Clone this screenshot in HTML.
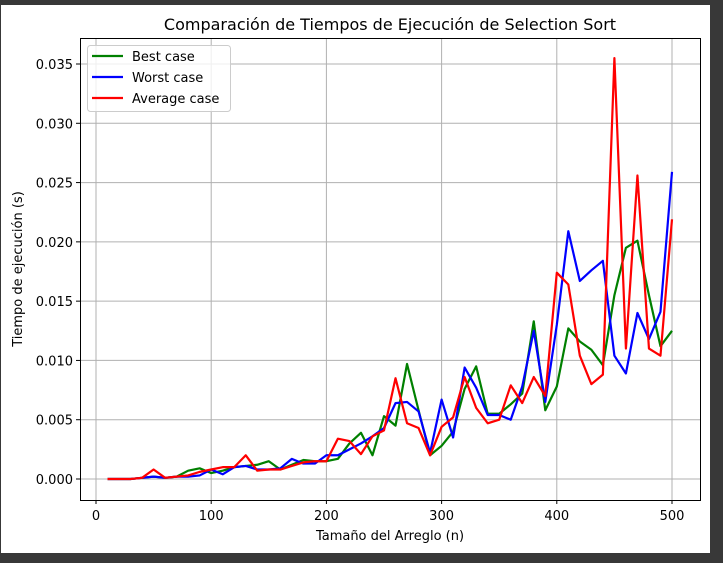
<!DOCTYPE html>
<html><head><meta charset="utf-8"><style>
html,body{margin:0;padding:0;background:#383838;}
svg{display:block;font-family:"DejaVu Sans","Liberation Sans",sans-serif;}
</style></head><body>
<svg id="chart" width="723" height="563">
<rect x="1" y="5" width="709" height="548" fill="#fff"/>
<text x="390" y="30" font-size="16" text-anchor="middle">Comparación de Tiempos de Ejecución de Selection Sort</text>
<g id="grid"></g>
<g id="series"></g>
<rect x="80.5" y="38.5" width="620" height="462" fill="none" stroke="#000" stroke-width="1"/>
<g id="ticks" font-size="13"></g>
<text x="390" y="540" font-size="13" text-anchor="middle">Tamaño del Arreglo (n)</text>
<text transform="translate(22,269) rotate(-90)" font-size="13" text-anchor="middle">Tiempo de ejecución (s)</text>
<g>
<rect x="87.5" y="45.5" width="143" height="66" rx="3" fill="#fff" fill-opacity="0.8" stroke="#ccc"/>
<g><line x1="92" y1="56" x2="123" y2="56" stroke="green" stroke-width="2.2"/><text x="132" y="61" font-size="13">Best case</text></g>
<g><line x1="92" y1="77" x2="123" y2="77" stroke="blue" stroke-width="2.2"/><text x="132" y="82" font-size="13">Worst case</text></g>
<g><line x1="92" y1="98" x2="123" y2="98" stroke="red" stroke-width="2.2"/><text x="132" y="103" font-size="13">Average case</text></g>
</g>
</svg>
<script>
const sizes=[10,20,30,40,50,60,70,80,90,100,110,120,130,140,150,160,170,180,190,200,210,220,230,240,250,260,270,280,290,300,310,320,330,340,350,360,370,380,390,400,410,420,430,440,450,460,470,480,490,500];
const bestCase=[0,0,0,0.0001,0.0002,0.0001,0.0002,0.0007,0.0009,0.0005,0.0007,0.001,0.0011,0.0012,0.0015,0.0008,0.0012,0.0016,0.0015,0.0015,0.0017,0.003,0.0039,0.002,0.0053,0.0045,0.0097,0.0058,0.002,0.0028,0.004,0.0076,0.0095,0.0055,0.0055,0.0063,0.0072,0.0133,0.0058,0.0078,0.0127,0.0116,0.0109,0.0096,0.0155,0.0195,0.0201,0.0155,0.0112,0.0125];
const worstCase=[0,0,0,0.0001,0.0002,0.0001,0.0002,0.0002,0.0003,0.0008,0.0004,0.001,0.0011,0.0008,0.0008,0.0009,0.0017,0.0013,0.0013,0.002,0.002,0.0025,0.003,0.0036,0.0043,0.0064,0.0065,0.0057,0.0022,0.0067,0.0035,0.0094,0.0077,0.0054,0.0054,0.005,0.0078,0.0125,0.0065,0.013,0.0209,0.0167,0.0176,0.0184,0.0104,0.0089,0.014,0.0118,0.0141,0.0259];
const averageCase=[0,0,0,0.0001,0.0008,0.0001,0.0002,0.0003,0.0006,0.0008,0.001,0.001,0.002,0.0007,0.0008,0.0008,0.0011,0.0014,0.0015,0.0015,0.0034,0.0032,0.0021,0.0036,0.0041,0.0085,0.0047,0.0043,0.002,0.0044,0.0052,0.0086,0.006,0.0047,0.005,0.0079,0.0064,0.0086,0.007,0.0174,0.0164,0.0104,0.008,0.0088,0.0355,0.011,0.0256,0.011,0.0104,0.0219];
const xTicks=[0,100,200,300,400,500];
const yTicks=[0,0.005,0.01,0.015,0.02,0.025,0.03,0.035];
const yTickLabels=["0.000","0.005","0.010","0.015","0.020","0.025","0.030","0.035"];
const NS="http://www.w3.org/2000/svg";
function xs(v){return 96+v*(672-96)/500;}
function ys(v){return 479-v*(479-64)/0.035;}
function mk(tag,attrs,parent){const e=document.createElementNS(NS,tag);for(const k in attrs)e.setAttribute(k,attrs[k]);parent.appendChild(e);return e;}
const grid=document.getElementById('grid'),ticks=document.getElementById('ticks'),series=document.getElementById('series');
xTicks.forEach(t=>{const x=xs(t);
 const g=mk('line',{x1:x,x2:x,y1:38,y2:500,stroke:'#b0b0b0','stroke-width':1},grid);
 
 
 mk('line',{x1:x,x2:x,y1:500,y2:504,stroke:'#000'},ticks);
 const l=mk('text',{x:x,y:520,'text-anchor':'middle'},ticks);l.textContent=t;
 
 
});
yTicks.forEach((t,i)=>{const y=ys(t);
 const g=mk('line',{x1:80,x2:700,y1:y,y2:y,stroke:'#b0b0b0','stroke-width':1},grid);
 
 
 mk('line',{x1:76,x2:80,y1:y,y2:y,stroke:'#000'},ticks);
 const l=mk('text',{x:73,y:y+5,'text-anchor':'end'},ticks);l.textContent=yTickLabels[i];
 
 
});
[[bestCase,'green','best-case-line'],[worstCase,'blue','worst-case-line'],[averageCase,'red','average-case-line']].forEach(([d,c,n])=>{
 const p=mk('polyline',{points:d.map((v,i)=>xs(sizes[i])+','+ys(v)).join(' '),fill:'none',stroke:c,'stroke-width':2.2,'stroke-linejoin':'round'},series);
 
 
});
</script>
</body></html>
